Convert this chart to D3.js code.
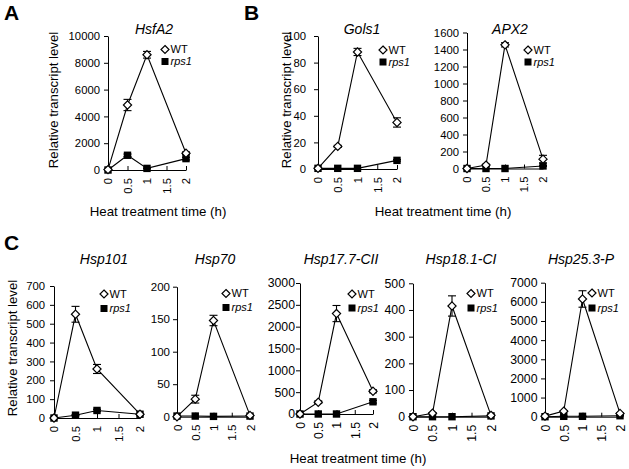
<!DOCTYPE html>
<html><head><meta charset="utf-8">
<script src="https://cdn.jsdelivr.net/npm/d3@7"></script>
<style>
body{margin:0;background:#fff;}
text{font-family:"Liberation Sans",Arial,sans-serif;fill:#000;}
</style></head>
<body>
<script>
// ---------- data ----------
const times = [0, 0.5, 1, 2];
const xTickValues = [0, 0.5, 1, 1.5, 2];
const genes = ["HsfA2", "Gols1", "APX2", "Hsp101", "Hsp70", "Hsp17.7-CII", "Hsp18.1-CI", "Hsp25.3-P"];
const yMax  = [10000, 100, 1600, 700, 200, 3000, 500, 7000];
const yStep = [2000, 20, 200, 100, 50, 500, 100, 1000];
const seriesNames = ["WT", "rps1"];
const wtMean = [
  [30, 4850, 8600, 1250],
  [0.5, 17, 88, 35],
  [0, 40, 1455, 110],
  [0, 550, 260, 20],
  [0, 27, 148, 2],
  [0, 270, 2300, 520],
  [0, 13, 415, 5],
  [30, 290, 6150, 170]
];
const wtErr = [
  [0, 420, 250, 100],
  [0, 0.8, 2.7, 3.5],
  [0, 10, 25, 45],
  [0, 42, 24, 3],
  [0, 6, 8, 0.5],
  [0, 30, 185, 35],
  [0, 2, 38, 1],
  [0, 30, 430, 30]
];
const rpsMean = [
  [0, 1100, 120, 850],
  [0.5, 0.5, 0.5, 6.5],
  [0, 0, 0, 30],
  [0, 15, 40, 20],
  [1, 1, 0.5, 1],
  [0, 0, 0, 280],
  [0, 0, 0, 3],
  [0, 20, 20, 50]
];
const rpsErr = [
  [0, 90, 30, 100],
  [0, 0, 0, 0.6],
  [0, 0, 0, 5],
  [0, 3, 6, 3],
  [0, 0, 0, 0],
  [0, 0, 0, 30],
  [0, 0, 0, 1],
  [0, 5, 5, 10]
];

// ---------- layout ----------
const layout = [
  {x0:108, x1:186, y0:170,   y1:36,    tx:154, ty:33.5, lx:165, ly:49.5, ldy:12,   tf:11.3, gap:4},
  {x0:318, x1:397, y0:169,   y1:36,    tx:362, ty:33.5, lx:383, ly:50,   ldy:12,   tf:11.3, gap:8},
  {x0:467, x1:543, y0:168.5, y1:32.5,  tx:510, ty:33.5, lx:528, ly:50,   ldy:12,   tf:11.3, gap:4},
  {x0:54,  x1:140, y0:418,   y1:286,   tx:104, ty:264,  lx:104, ly:294,  ldy:14.5, tf:11.3, gap:5},
  {x0:177, x1:250, y0:416.7, y1:286.7, tx:215, ty:264,  lx:226, ly:293.5,ldy:14,   tf:11.5, gap:3},
  {x0:300, x1:373, y0:414,   y1:283,   tx:341, ty:264,  lx:352, ly:294,  ldy:14,   tf:12.3, gap:1},
  {x0:413, x1:491, y0:416.7, y1:283.3, tx:461, ty:264,  lx:471, ly:293.5,ldy:14.5, tf:12.3, gap:4},
  {x0:545, x1:620, y0:416.7, y1:282.7, tx:581, ty:264,  lx:592, ly:293,  ldy:15,   tf:12.3, gap:3.5}
];

const W = 629, H = 469;
const svg = d3.select("body").append("svg").attr("width", W).attr("height", H);
svg.append("rect").attr("width", W).attr("height", H).attr("fill", "#fff");

const diamond = (cx, cy, r) => `M${cx},${cy - r}L${cx + r},${cy}L${cx},${cy + r}L${cx - r},${cy}Z`;

genes.forEach((gene, i) => {
  const L = layout[i];
  const g = svg.append("g");
  const x = d3.scaleLinear().domain([0, 2]).range([L.x0, L.x1]);
  const y = d3.scaleLinear().domain([0, yMax[i]]).range([L.y0, L.y1]);

  // y axis
  const yTicks = d3.range(0, yMax[i] + yStep[i] / 2, yStep[i]);
  const ya = g.append("g").attr("transform", `translate(${L.x0},0)`)
    .call(d3.axisLeft(y).tickValues(yTicks).tickSizeInner(4).tickSizeOuter(0).tickPadding(L.gap).tickFormat(d3.format("d")));
  ya.selectAll("text").style("font-size", L.tf + "px").attr("font-family", null);
  ya.selectAll("path,line").attr("stroke", "#000").attr("stroke-width", 1);

  // x axis
  const xa = g.append("g").attr("transform", `translate(0,${L.y0})`)
    .call(d3.axisBottom(x).tickValues(xTickValues).tickSizeInner(-4).tickSizeOuter(0).tickFormat(d => String(d)));
  xa.selectAll("path,line").attr("stroke", "#000").attr("stroke-width", 1);
  xa.selectAll("text")
    .attr("transform", "rotate(-90)")
    .attr("text-anchor", "end")
    .attr("x", -8).attr("y", 0).attr("dy", "0.35em")
    .style("font-size", L.tf + "px").attr("font-family", null);

  // title
  g.append("text").attr("x", L.tx).attr("y", L.ty).attr("text-anchor", "middle")
    .style("font-size", "14px").style("font-style", "italic").text(gene);

  const line = d3.line().x((d, k) => x(times[k])).y(d => y(d));

  [[wtMean[i], wtErr[i]], [rpsMean[i], rpsErr[i]]].forEach(([m, e]) => {
    g.append("path").attr("d", line(m)).attr("fill", "none").attr("stroke", "#000").attr("stroke-width", 1.1);
  });
  // error bars
  [[wtMean[i], wtErr[i]], [rpsMean[i], rpsErr[i]]].forEach(([m, e]) => {
    m.forEach((v, k) => {
      if (!e[k]) return;
      const cx = x(times[k]);
      const yt = y(v + e[k]), yb = y(Math.max(0, v - e[k]));
      g.append("line").attr("x1", cx).attr("x2", cx).attr("y1", yt).attr("y2", yb).attr("stroke", "#000").attr("stroke-width", 1.1);
      [yt, yb].forEach(yy => g.append("line").attr("x1", cx - 4).attr("x2", cx + 4).attr("y1", yy).attr("y2", yy).attr("stroke", "#000").attr("stroke-width", 1.1));
    });
  });
  // markers
  rpsMean[i].forEach((v, k) => {
    g.append("rect").attr("x", x(times[k]) - 3.7).attr("y", y(v) - 3.7).attr("width", 7.4).attr("height", 7.4).attr("fill", "#000");
  });
  wtMean[i].forEach((v, k) => {
    g.append("path").attr("d", diamond(x(times[k]), y(v), 4.1)).attr("fill", "#fff").attr("stroke", "#000").attr("stroke-width", 1.2);
  });

  // legend
  g.append("path").attr("d", diamond(L.lx, L.ly, 4)).attr("fill", "#fff").attr("stroke", "#000").attr("stroke-width", 1.2);
  g.append("text").attr("x", L.lx + 5.5).attr("y", L.ly).attr("dy", "0.36em").style("font-size", "11px").text(seriesNames[0]);
  g.append("rect").attr("x", L.lx - 3.5).attr("y", L.ly + L.ldy - 3.5).attr("width", 7).attr("height", 7).attr("fill", "#000");
  g.append("text").attr("x", L.lx + 5.5).attr("y", L.ly + L.ldy).attr("dy", "0.36em").style("font-size", "11px").style("font-style", "italic").text(seriesNames[1]);
});

// axis titles
const yLabel = "Relative transcript level";
const xLabel = "Heat treatment time (h)";
[[53, 100], [286, 100], [12, 348]].forEach(([cx, cy]) => {
  svg.append("text").attr("transform", `translate(${cx},${cy}) rotate(-90)`).attr("text-anchor", "middle")
    .attr("dy", "0.35em").style("font-size", "13.2px").text(yLabel);
});
[[158, 211], [443, 211], [358, 458]].forEach(([cx, cy]) => {
  svg.append("text").attr("x", cx).attr("y", cy).attr("dy", "0.35em").attr("text-anchor", "middle")
    .style("font-size", "13.3px").text(xLabel);
});

// panel letters
[["A", 4, 20], ["B", 244, 20], ["C", 4, 250]].forEach(([t, px, py]) => {
  svg.append("text").attr("x", px).attr("y", py).style("font-size", "21px").style("font-weight", "bold").text(t);
});
</script>
</body></html>
